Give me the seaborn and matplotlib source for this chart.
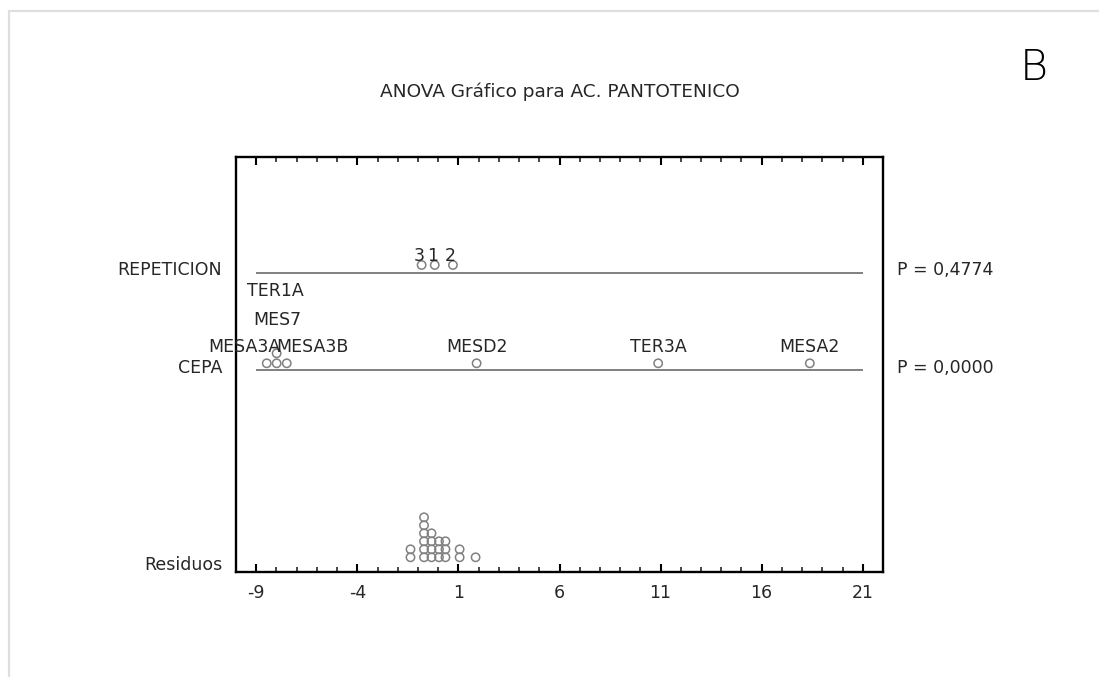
import numpy as np
import pandas as pd
import matplotlib
matplotlib.use("Agg")
import matplotlib.pyplot as plt
from matplotlib.ticker import MultipleLocator, FixedLocator
import matplotlib.transforms as mtransforms
import seaborn as sns

# ---------------- data ----------------
title = "ANOVA Gráfico para AC. PANTOTENICO"
row_names = ["REPETICION", "CEPA", "Residuos"]
p_values = ["P = 0,4774", "P = 0,0000"]

rep_labels = ["3", "1", "2"]
rep_effects = [-0.82, -0.17, 0.73]

cepa_labels = ["MESA3A", "MES7", "TER1A", "MESA3B", "MESD2", "TER3A", "MESA2"]
cepa_effects = [-8.48, -7.99, -7.99, -7.49, 1.90, 10.88, 18.38]

residuals = [-1.37, -1.37,
             -0.70, -0.70, -0.70, -0.70, -0.70, -0.70,
             -0.33, -0.33, -0.33, -0.33,
             0.04, 0.04, 0.04,
             0.36, 0.36, 0.36,
             1.06, 1.06,
             1.85]

xtick_values = [-9, -4, 1, 6, 11, 16, 21]
panel_letter = "B"

# ---------------- layout ----------------
W, H = 1099, 677
fig = plt.figure(figsize=(W / 100, H / 100), dpi=100)
sns.set_style("white")
plt.rcParams['font.family'] = ['DejaVu Sans']

ax = fig.add_axes([236 / W, 1 - 572 / H, (883 - 236) / W, (572 - 157) / H])
ax.set_xlim(-10, 22)
ax.set_ylim(0, 41.5)

row_line_y = {"REPETICION": 29.9, "CEPA": 20.2}
row_label_y = {"REPETICION": 30.2, "CEPA": 20.4, "Residuos": 0.7}
point_offset = {"REPETICION": 0.8, "CEPA": 0.67}
resid_base = 1.47


def stack(values, base, step):
    seen = {}
    ys = []
    for v in values:
        k = round(v, 2)
        n = seen.get(k, 0)
        ys.append(base + n * step)
        seen[k] = n + 1
    return ys


rows = []
for lab, v, y in zip(rep_labels, rep_effects,
                     stack(rep_effects, row_line_y["REPETICION"] + point_offset["REPETICION"], 0.85)):
    rows.append(dict(x=v, y=y, label=lab, row="REPETICION"))
for lab, v, y in zip(cepa_labels, cepa_effects,
                     stack(cepa_effects, row_line_y["CEPA"] + point_offset["CEPA"], 1.0)):
    rows.append(dict(x=v, y=y, label=lab, row="CEPA"))
for v, y in zip(residuals, stack(residuals, resid_base, 0.8)):
    rows.append(dict(x=v, y=y, label="", row="Residuos"))
df = pd.DataFrame(rows)

gray = "#808080"
# horizontal reference lines
for r in ["REPETICION", "CEPA"]:
    ax.hlines(row_line_y[r], xtick_values[0], xtick_values[-1], color=gray, lw=1.4, zorder=1)

sns.scatterplot(data=df, x="x", y="y", ax=ax, marker="o", s=36,
                facecolors="none", edgecolor=gray, linewidth=1.1, zorder=3, legend=False)

txt_color = "#262626"
fs = 12.5
# REPETICION point labels
for lab, v in zip(rep_labels, rep_effects):
    ax.text(v - 0.12, 31.6, lab, ha="center", va="center", fontsize=fs, color=txt_color, zorder=4)

# CEPA point labels (with stacked levels / small shifts like the original)
label_shift = {"MESA3A": (-1.12, 22.5), "MES7": (0.03, 25.2), "TER1A": (-0.07, 28.1),
               "MESA3B": (1.25, 22.5)}
for lab, v in zip(cepa_labels, cepa_effects):
    dx, yy = label_shift.get(lab, (0.0, 22.5))
    ax.text(v + dx, yy, lab, ha="center", va="center", fontsize=fs, color=txt_color, zorder=4)

# row names and P values
blend = mtransforms.blended_transform_factory(ax.transAxes, ax.transData)
for r in row_names:
    ax.text(-14 / 647, row_label_y[r], r, ha="right", va="center", fontsize=fs,
            color=txt_color, transform=blend)
for r, p in zip(["REPETICION", "CEPA"], p_values):
    ax.text(1 + 14 / 647, row_label_y[r], p, ha="left", va="center", fontsize=fs,
            color=txt_color, transform=blend)

# axes styling
ax.set_yticks([])
ax.xaxis.set_major_locator(FixedLocator(xtick_values))
ax.xaxis.set_minor_locator(MultipleLocator(1))
ax.set_xticklabels([str(t) for t in xtick_values])
ax.tick_params(axis="x", which="major", direction="in", length=6, width=1.5,
               top=True, bottom=True, labelsize=fs, colors="black", pad=9,
               labelcolor=txt_color)
ax.tick_params(axis="x", which="minor", direction="in", length=3.5, width=1.2,
               top=True, bottom=True)
for s in ax.spines.values():
    s.set_visible(True)
    s.set_linewidth(1.7)
    s.set_color("black")
ax.set_xlabel("")
ax.set_ylabel("")

fig.text(559.5 / W, 1 - 92 / H, title, ha="center", va="center", fontsize=13.3, color=txt_color)
fig.text(1034 / W, 1 - 68 / H, panel_letter, ha="center", va="center", fontsize=31,
         fontweight="light", color="black")

# light frame
border = "#dedede"
fig.add_artist(plt.Line2D([8.5 / W, 8.5 / W], [0, 1 - 11 / H], color=border, lw=1.6,
                          transform=fig.transFigure))
fig.add_artist(plt.Line2D([8.5 / W, 1], [1 - 11 / H, 1 - 11 / H], color=border, lw=1.6,
                          transform=fig.transFigure))

fig.savefig("out.png", dpi=100)
